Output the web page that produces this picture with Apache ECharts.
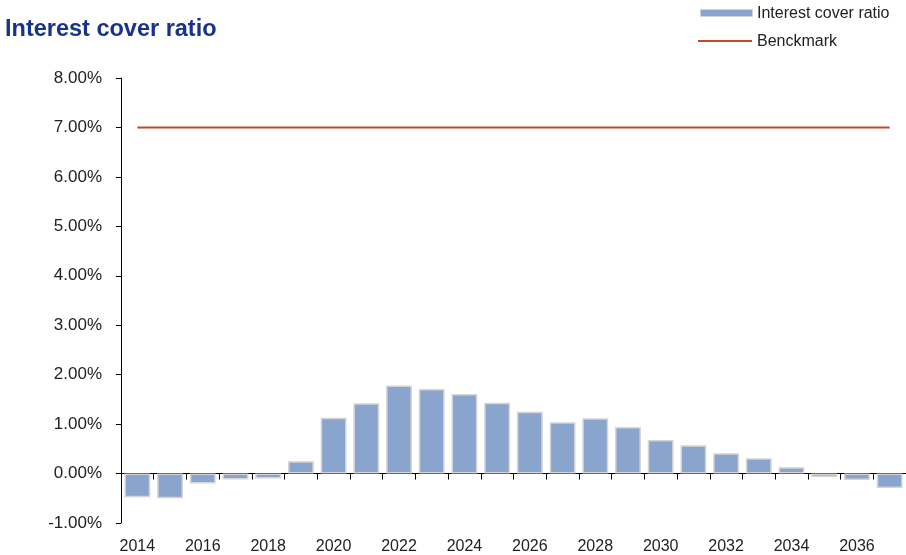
<!DOCTYPE html>
<html><head><meta charset="utf-8">
<script src="https://cdn.jsdelivr.net/npm/echarts@6/dist/echarts.min.js"></script>
<style>html,body{margin:0;padding:0;background:#fff}#c{width:906px;height:555px}</style>
</head><body><div id="c"></div>
<script>
const years = ['2014','2015','2016','2017','2018','2019','2020','2021','2022','2023','2024','2025','2026','2027','2028','2029','2030','2031','2032','2033','2034','2035','2036','2037'];
const coverRatio = [-0.48,-0.50,-0.20,-0.12,-0.10,0.25,1.13,1.42,1.78,1.71,1.61,1.43,1.25,1.04,1.12,0.94,0.68,0.57,0.41,0.31,0.13,-0.07,-0.13,-0.29];
const benchmark = [7,7,7,7,7,7,7,7,7,7,7,7,7,7,7,7,7,7,7,7,7,7,7,7];
const yTicks = {min:-1, max:8, interval:1};
const seriesNames = ['Interest cover ratio','Benckmark'];

const chart = echarts.init(document.getElementById('c'), null, {renderer:'canvas'});
const font = 'Liberation Sans, Arial, sans-serif';
const barColor = '#89A5CD', lineColor = '#C8442C';
chart.setOption({
  animation:false,
  title:{text:'Interest cover ratio', left:0, top:13,
    textStyle:{fontFamily:font, fontSize:23.5, fontWeight:'bold', color:'#17338C'}},
  graphic:[
    {type:'rect', left:700, top:9, shape:{width:52, height:7}, style:{fill:barColor, stroke:'#D4D4D4', lineWidth:1}},
    {type:'text', left:757, top:6, style:{text:seriesNames[0], font:'16px '+font, fill:'#222'}},
    {type:'line', shape:{x1:698, y1:41, x2:752, y2:41}, style:{stroke:lineColor, lineWidth:2}},
    {type:'text', left:757, top:34, style:{text:seriesNames[1], font:'16px '+font, fill:'#222'}}
  ],
  grid:{left:121, right:0, top:78, bottom:31, containLabel:false},
  xAxis:[{type:'category', data:years, position:'bottom', axisLine:{show:false, onZero:false},
      axisTick:{show:false},
      axisLabel:{interval:1, margin:16, fontFamily:font, fontSize:16, color:'#222'}},
    {type:'category', data:years, position:'bottom', axisLine:{onZero:true, lineStyle:{color:'#000', width:1}},
      axisTick:{show:true, interval:0, length:6, lineStyle:{color:'#000'}},
      axisLabel:{show:false}}],
  yAxis:{type:'value', min:yTicks.min, max:yTicks.max, interval:yTicks.interval,
    axisLine:{show:true, lineStyle:{color:'#000'}},
    axisTick:{show:true, length:5, lineStyle:{color:'#000'}},
    splitLine:{show:false},
    axisLabel:{margin:19, fontFamily:font, fontSize:17, color:'#222', formatter:v=>v.toFixed(2)+'%'}},
  series:[
    {name:seriesNames[0], type:'bar', data:coverRatio, xAxisIndex:0, barCategoryGap:'21%',
      itemStyle:{color:barColor, borderColor:'#D4D4D4', borderWidth:1.5}},
    {name:seriesNames[1], type:'line', data:benchmark, xAxisIndex:0, symbol:'none',
      lineStyle:{color:lineColor, width:2}, itemStyle:{color:lineColor}}
  ]
});
</script></body></html>
